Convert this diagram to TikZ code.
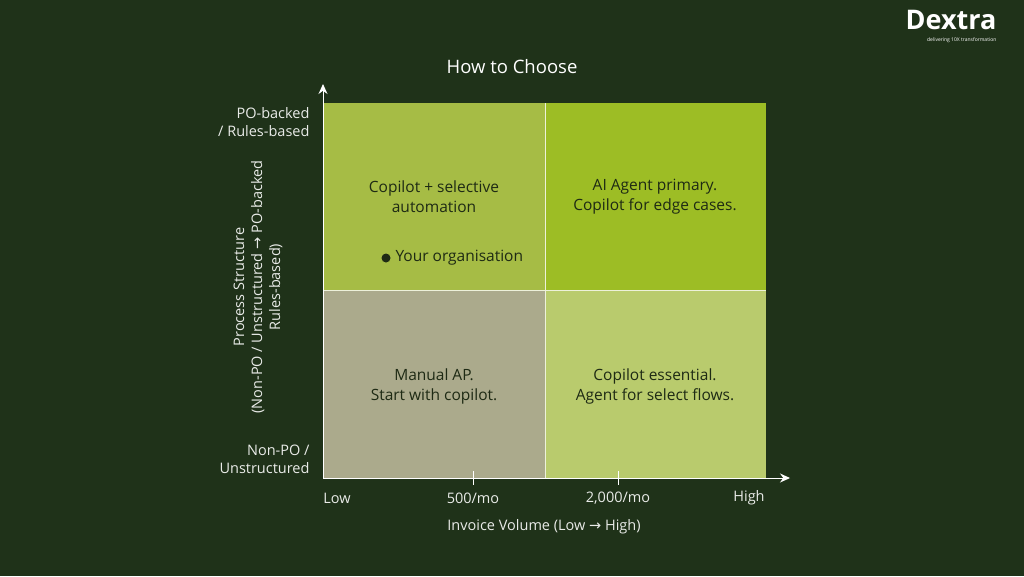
\documentclass[tikz,border=0pt]{standalone}
\usepackage{fontspec}
\setmainfont{Open Sans}
\newfontfamily\arrowfont{DejaVu Sans}
\usetikzlibrary{positioning,arrows.meta}
\definecolor{bg}{HTML}{1F3219}
\definecolor{quadTL}{HTML}{A6BC45}
\definecolor{quadTR}{HTML}{9DBD25}
\definecolor{quadBL}{HTML}{ABAA8C}
\definecolor{quadBR}{HTML}{B9CB6D}
\definecolor{ink}{HTML}{1E2A14}
\newcommand{\rarr}{{\arrowfont →}}
\tikzset{
  qtext/.style={text=ink, align=center, font=\fontsize{15.5}{20}\selectfont},
  axlabel/.style={text=white!90!bg, font=\fontsize{14.5}{18}\selectfont},
}
\begin{document}
\begin{tikzpicture}[x=1pt,y=-1pt]
  \fill[bg] (0,0) rectangle (1024,576);
  \useasboundingbox (0,0) rectangle (1024,576);
  % quadrants
  \fill[quadTL] (323,103) rectangle (545,290);
  \fill[quadTR] (545,103) rectangle (766,290);
  \fill[quadBL] (323,290) rectangle (545,478);
  \fill[quadBR] (545,290) rectangle (766,478);
  \draw[white!80!quadTL, line width=0.8pt] (545,103) -- (545,478) (323,290) -- (766,290);
  \node[qtext] (tl) at (434,197) {Copilot + selective\\automation};
  \node[qtext] (tr) at (655,197) {AI Agent primary.\\Copilot for edge cases.};
  \node[qtext] (bl) at (434,386) {Manual AP.\\Start with copilot.};
  \node[qtext] (br) at (655,386) {Copilot essential.\\Agent for select flows.};
  \fill[ink] (386,258) circle (4.5);
  \node[qtext, anchor=west] (org) at (392,258) {Your organisation};
  % axes
  \coordinate (o) at (323,478);
  \coordinate (ytop) at (323,84);
  \coordinate (xend) at (790,478);
  \draw[white, line width=1pt, -{Stealth[length=10pt,width=9pt]}] (o) -- (ytop);
  \draw[white, line width=1pt, -{Stealth[length=10pt,width=9pt]}] (o) -- (xend);
  \foreach \x in {473,618} \draw[white, line width=1pt] (\x,471) -- (\x,485);
  \node[axlabel] (lo) at (337,498) {Low};
  \node[axlabel] (m5) at (473,498) {500/mo};
  \node[axlabel] (m2) at (618,498) {2,000/mo};
  \node[axlabel] (hi) at (749,498) {High};
  \node[axlabel] (xt) at (544,527) {Invoice Volume (Low \rarr{} High)};
  \node[axlabel, align=right, anchor=east] (pob) at (313,122) {PO-backed\\/ Rules-based};
  \node[axlabel, align=right, anchor=east] (npo) at (313,459) {Non-PO /\\Unstructured};
  \node[axlabel, align=center, rotate=90] (yt) at (258,287) {Process Structure\\(Non-PO / Unstructured \rarr{} PO-backed\\Rules-based)};
  \node[text=white, font=\fontsize{18.5}{22}\selectfont] (title) at (512,67) {How to Choose};
  % logo
  \node[text=white, font=\bfseries\fontsize{27}{30}\selectfont] (logo) at (951,20) {Dextra};
  \node[text=white, font=\fontsize{5}{6}\selectfont, below=1pt of logo.south east, anchor=north east] (tag) {delivering 10X transformation};
\end{tikzpicture}
\end{document}
